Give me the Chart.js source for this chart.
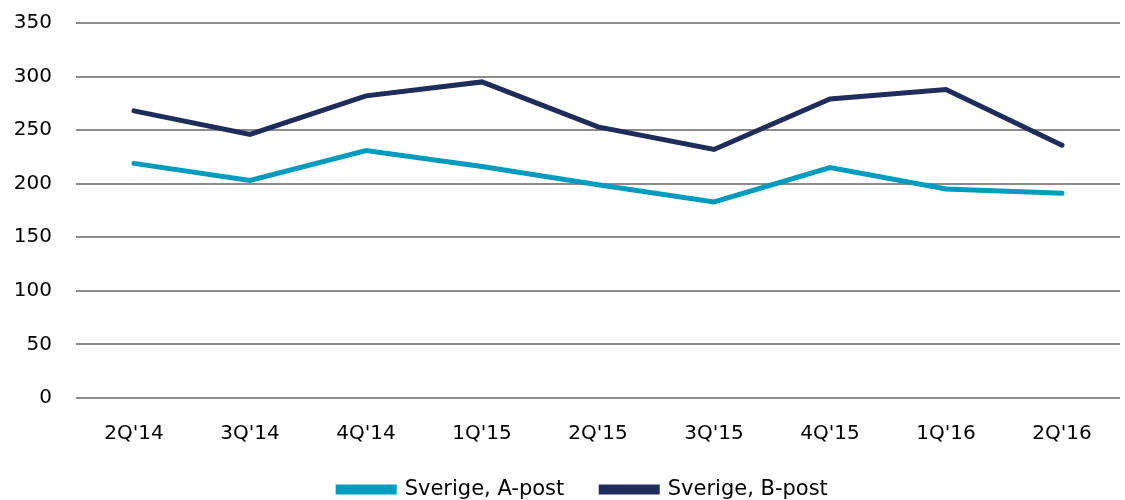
<!DOCTYPE html>
<html>
<head>
<meta charset="utf-8">
<script src="https://cdn.jsdelivr.net/npm/chart.js@4/dist/chart.umd.min.js"></script>
<style>
  html, body { margin: 0; padding: 0; background: #fff; }
  #wrap { width: 1125px; height: 500px; }
</style>
</head>
<body>
<div id="wrap"><canvas id="chart" width="1125" height="500"></canvas></div>
<script>
const quarters = ["2Q'14", "3Q'14", "4Q'14", "1Q'15", "2Q'15", "3Q'15", "4Q'15", "1Q'16", "2Q'16"];
const aPost = [219, 203, 231, 216, 199, 183, 215, 195, 191];
const bPost = [268, 246, 282, 295, 253, 232, 279, 288, 236];
const yTicks = [0, 50, 100, 150, 200, 250, 300, 350];

const font = { family: "'DejaVu Sans', sans-serif", size: 20 };
const legendFont = { family: "'DejaVu Sans', sans-serif", size: 21 };

// legend sits a bit right of the canvas centre in the original
const legendShift = {
  id: 'legendShift',
  afterLayout(chart) {
    chart.legend.left += 23;
    chart.legend.right += 23;
  }
};

new Chart(document.getElementById('chart'), {
  type: 'line',
  data: {
    labels: quarters,
    datasets: [
      { label: 'Sverige, A-post', data: aPost, borderColor: '#009cbf', backgroundColor: '#009cbf', borderWidth: 5, pointRadius: 0, tension: 0, borderCapStyle: 'round' },
      { label: 'Sverige, B-post', data: bPost, borderColor: '#1f2d5c', backgroundColor: '#1f2d5c', borderWidth: 5, pointRadius: 0, tension: 0, borderCapStyle: 'round' }
    ]
  },
  plugins: [legendShift],
  options: {
    responsive: false,
    animation: false,
    layout: { padding: { top: 23, right: 5, left: 0, bottom: -10 } },
    plugins: {
      legend: {
        position: 'bottom',
        labels: { color: '#000', font: legendFont, boxWidth: 56, boxHeight: 5, padding: 37 }
      },
      tooltip: { enabled: false }
    },
    scales: {
      x: {
        offset: true,
        afterFit: function (s) { s.height = 44; },
        grid: { display: false },
        border: { display: false },
        ticks: { color: '#000', font: font, padding: 16 }
      },
      y: {
        min: 0, max: 350,
        afterFit: function (s) {
          s.width = 76;
          s.paddingTop = 0;
          s.paddingBottom = 0;
        },
        afterBuildTicks: function (s) { s.ticks = yTicks.map(v => ({ value: v })); },
        grid: { color: '#8c8c8c', lineWidth: 2, drawTicks: false },
        border: { display: false },
        ticks: { color: '#000', font: font, padding: 24 }
      }
    }
  }
});
</script>
</body>
</html>
